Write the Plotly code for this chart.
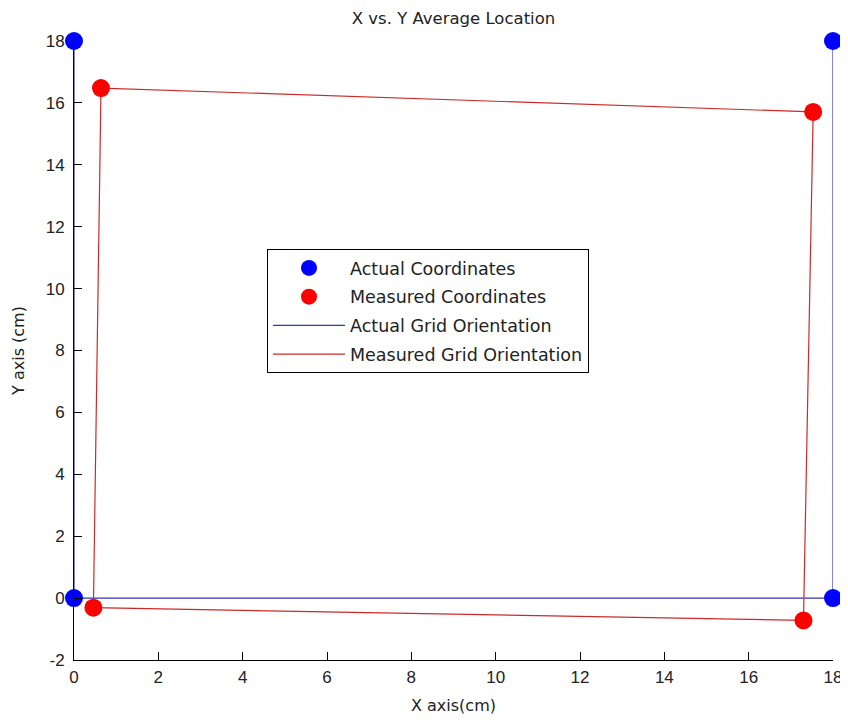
import plotly.graph_objects as go

# Data
actual_x = [0, 18, 0, 18]
actual_y = [18, 18, 0, 0]
measured_x = [0.64, 17.53, 17.30, 0.46]
measured_y = [16.48, 15.71, -0.72, -0.31]

# Actual grid orientation path
grid_actual_x = [0, 0, 18, 18]
grid_actual_y = [18, 0, 0, 18]
# Measured grid orientation path (closed loop)
grid_meas_x = measured_x + [measured_x[0]]
grid_meas_y = measured_y + [measured_y[0]]

x_ticks = [0, 2, 4, 6, 8, 10, 12, 14, 16, 18]
y_ticks = [-2, 0, 2, 4, 6, 8, 10, 12, 14, 16, 18]

FONT = "Liberation Sans, Arial, sans-serif"
LFONT = "DejaVu Sans, sans-serif"

# page has an 8px body margin, so figure is sized to fit the 848x722 window
W, H = 840, 714

fig = go.Figure()
fig.add_trace(go.Scatter(
    x=grid_actual_x, y=grid_actual_y, mode="lines", name="Actual Grid Orientation",
    line=dict(color="#3535b5", width=1.2), cliponaxis=False,
    legendrank=3, legendgroup="c",
))
fig.add_trace(go.Scatter(
    x=grid_meas_x, y=grid_meas_y, mode="lines", name="Measured Grid Orientation",
    line=dict(color="#cc2a2a", width=1.2), cliponaxis=False,
    legendrank=4, legendgroup="d",
))
fig.add_trace(go.Scatter(
    x=actual_x, y=actual_y, mode="markers", name="Actual Coordinates",
    marker=dict(color="#0000ff", size=18, symbol="circle"), cliponaxis=False,
    legendrank=1, legendgroup="a",
))
fig.add_trace(go.Scatter(
    x=measured_x, y=measured_y, mode="markers", name="Measured Coordinates",
    marker=dict(color="#ff0000", size=18, symbol="circle"), cliponaxis=False,
    legendrank=2, legendgroup="b",
))

fig.update_layout(
    width=W, height=H,
    paper_bgcolor="white", plot_bgcolor="white",
    margin=dict(l=66, r=15, t=33, b=62, autoexpand=False),
    font=dict(family=FONT, size=16, color="#222222"),
    title=dict(text="X vs. Y Average Location", x=0.5, xref="paper", xanchor="center",
               y=1 - 10 / H, yref="container", yanchor="middle",
               font=dict(size=16.5, family=LFONT, color="#222222")),
    showlegend=True,
    legend=dict(
        x=(267 - 74) / 759, y=(660 - 249) / 619, xanchor="left", yanchor="top",
        bordercolor="black", borderwidth=1, bgcolor="white",
        font=dict(size=17.5, family=LFONT, color="#222222"),
        traceorder="grouped", tracegroupgap=3, itemwidth=72,
    ),
    xaxis=dict(
        range=[0, 18], tickvals=x_ticks, ticktext=[str(v) for v in x_ticks],
        showline=True, linecolor="black", linewidth=1, mirror=False,
        ticks="inside", ticklen=8, tickcolor="black", showgrid=False, zeroline=False,
        automargin=False, ticklabelstandoff=2,
        title=dict(text="X axis(cm)", font=dict(size=16, family=LFONT), standoff=13),
        tickfont=dict(size=17, family=FONT),
    ),
    yaxis=dict(
        range=[-2, 18], tickvals=y_ticks, ticktext=[str(v) for v in y_ticks],
        showline=True, linecolor="black", linewidth=1, mirror=False,
        ticks="inside", ticklen=8, tickcolor="black", showgrid=False, zeroline=False,
        automargin=False, ticklabelstandoff=5,
        title=dict(text="Y axis (cm)", font=dict(size=16, family=LFONT), standoff=17),
        tickfont=dict(size=17, family=FONT),
    ),
)

fig.write_html("out.html")
